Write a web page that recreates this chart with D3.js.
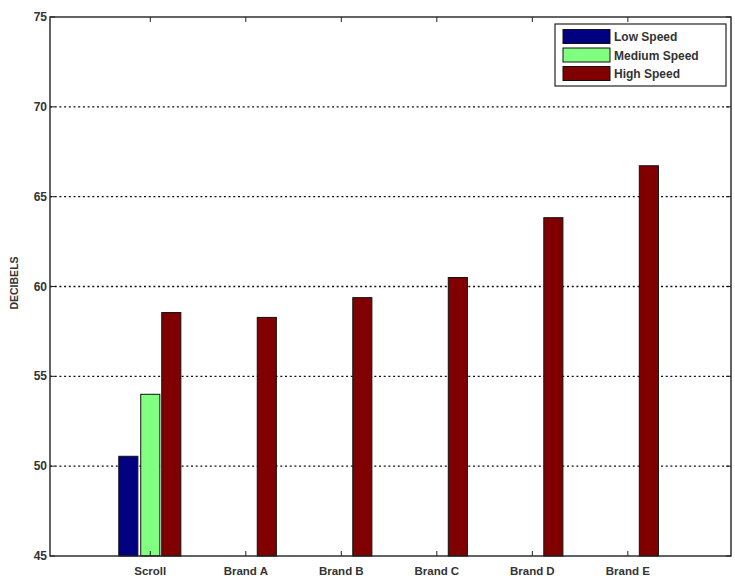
<!DOCTYPE html>
<html>
<head>
<meta charset="utf-8">
<script src="https://cdn.jsdelivr.net/npm/d3@7"></script>
<style>
  body { margin: 0; background: #fff; }
  text { font-family: "Liberation Sans", Arial, sans-serif; fill: #333; }
</style>
</head>
<body>
<svg id="chart" width="735" height="585"></svg>
<script>
// data
var categories = ["Scroll", "Brand A", "Brand B", "Brand C", "Brand D", "Brand E"];
var seriesNames = ["Low Speed", "Medium Speed", "High Speed"];
var lowSpeed = [50.55, null, null, null, null, null];
var mediumSpeed = [54.0, null, null, null, null, null];
var highSpeed = [58.55, 58.28, 59.38, 60.5, 63.83, 66.72];
var yTicks = [45, 50, 55, 60, 65, 70, 75];

var colours = ["#000080", "#80ff80", "#800000"];
var series = [lowSpeed, mediumSpeed, highSpeed];

var svg = d3.select("#chart");
// plot area edges (window.top is reserved, so no "top")
var pLeft = 50, pRight = 731, pTop = 17, pBottom = 556;

// category positions are 1..6 on a numeric axis, like the MATLAB bar()
var x = d3.scaleLinear().domain([-0.05, 7.08]).range([pLeft, pRight]);
var y = d3.scaleLinear().domain([45, 75]).range([pBottom, pTop]);

var offsets = [-0.23, 0, 0.22];
var barW = 0.2;

// grid (dotted)
svg.append("g").selectAll("line")
  .data(yTicks.filter(function(d){ return d > 45 && d < 75; }))
  .enter().append("line")
    .attr("x1", pLeft).attr("x2", pRight)
    .attr("y1", function(d){ return y(d); })
    .attr("y2", function(d){ return y(d); })
    .attr("stroke", "#111")
    .attr("stroke-width", 1.3)
    .attr("stroke-dasharray", "2,2.7");

// bars
var bars = [];
series.forEach(function(s, si) {
  s.forEach(function(v, ci) {
    if (v !== null) bars.push({ s: si, c: ci, v: v });
  });
});

svg.append("g").selectAll("rect")
  .data(bars)
  .enter().append("rect")
    .attr("x", function(d){ return x(d.c + 1 + offsets[d.s] - barW / 2); })
    .attr("width", function(d){ return x(barW) - x(0); })
    .attr("y", function(d){ return y(d.v); })
    .attr("height", function(d){ return y(45) - y(d.v); })
    .attr("fill", function(d){ return colours[d.s]; })
    .attr("stroke", "#111")
    .attr("stroke-width", 1);

// box + ticks
svg.append("rect")
  .attr("x", pLeft).attr("y", pTop)
  .attr("width", pRight - pLeft).attr("height", pBottom - pTop)
  .attr("fill", "none").attr("stroke", "#222").attr("stroke-width", 1.4);

var tickLen = 5;
var catIdx = d3.range(1, categories.length + 1);
svg.append("g").selectAll("line.xb")
  .data(catIdx).enter().append("line")
    .attr("x1", function(d){ return x(d); }).attr("x2", function(d){ return x(d); })
    .attr("y1", pBottom).attr("y2", pBottom - tickLen)
    .attr("stroke", "#222");
svg.append("g").selectAll("line.xt")
  .data(catIdx).enter().append("line")
    .attr("x1", function(d){ return x(d); }).attr("x2", function(d){ return x(d); })
    .attr("y1", pTop).attr("y2", pTop + tickLen)
    .attr("stroke", "#222");
svg.append("g").selectAll("line.yl")
  .data(yTicks).enter().append("line")
    .attr("x1", pLeft).attr("x2", pLeft + tickLen)
    .attr("y1", function(d){ return y(d); }).attr("y2", function(d){ return y(d); })
    .attr("stroke", "#222");
svg.append("g").selectAll("line.yr")
  .data(yTicks).enter().append("line")
    .attr("x1", pRight).attr("x2", pRight - tickLen)
    .attr("y1", function(d){ return y(d); }).attr("y2", function(d){ return y(d); })
    .attr("stroke", "#222");

// tick labels
svg.append("g").selectAll("text")
  .data(yTicks).enter().append("text")
    .attr("x", pLeft - 3)
    .attr("y", function(d){ return y(d) + 4; })
    .attr("text-anchor", "end")
    .style("font-size", "12px").style("font-weight", "bold")
    .text(function(d){ return d; });

svg.append("g").selectAll("text")
  .data(categories).enter().append("text")
    .attr("x", function(d, i){ return x(i + 1); })
    .attr("y", pBottom + 19)
    .attr("text-anchor", "middle")
    .style("font-size", "11.5px").style("font-weight", "bold")
    .text(function(d){ return d; });

svg.append("text")
  .attr("transform", "translate(18,283) rotate(-90)")
  .attr("text-anchor", "middle")
  .style("font-size", "10.5px").style("font-weight", "bold")
  .text("DECIBELS");

// legend
var lg = svg.append("g").attr("transform", "translate(555,24)");
lg.append("rect").attr("width", 171).attr("height", 62)
  .attr("fill", "#fff").attr("stroke", "#222").attr("stroke-width", 1.2);
seriesNames.forEach(function(name, i) {
  var row = lg.append("g").attr("transform", "translate(0," + (12.5 + i * 18.5) + ")");
  row.append("rect").attr("x", 8).attr("y", -7).attr("width", 47).attr("height", 14)
    .attr("fill", colours[i]).attr("stroke", "#111");
  row.append("text").attr("x", 59).attr("y", 4.5)
    .style("font-size", "12px").style("font-weight", "bold")
    .text(name);
});
</script>
</body>
</html>
